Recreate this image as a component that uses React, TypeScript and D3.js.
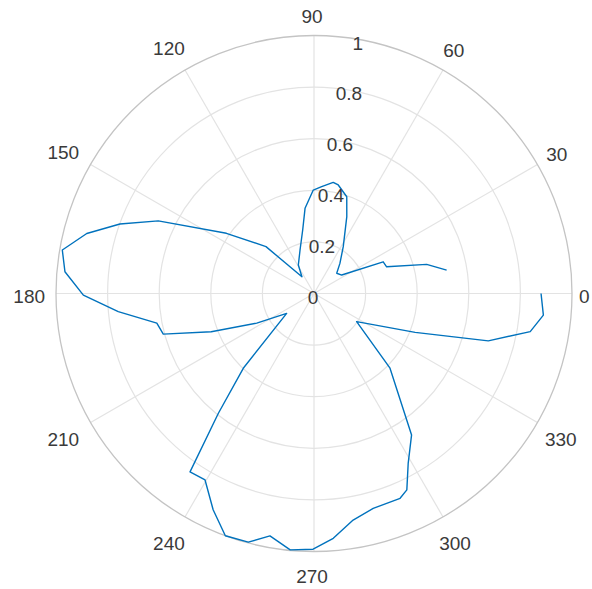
import React from "react";
import * as d3 from "d3";

// Polar data: angle (degrees) and radius
const thetaDeg = [
  10, 14.5, 20.2, 24.6, 33.7, 41.7, 49.3, 58, 66.9, 71.3, 77.4, 80.2, 85.9, 90.4, 96, 100.1,
  107.8, 118.8, 125.8, 135.7, 145.5, 155, 160.3, 165.2, 170.2, 175, 180.4, 185.3, 190.7,
  195.1, 200.4, 207.4, 216, 226.6, 231.4, 235.2, 239.7, 245, 249.9, 255.2, 259.7, 264.7,
  269.8, 274.5, 279.8, 285.4, 292.8, 295.3, 299, 304.6, 315.5, 326.6, 339, 344.8, 350,
  354.6, 360,
];
const radius = [
  0.522, 0.451, 0.3, 0.295, 0.129, 0.118, 0.154, 0.214, 0.324, 0.396, 0.431, 0.437, 0.415,
  0.401, 0.332, 0.25, 0.177, 0.126, 0.08, 0.26, 0.412, 0.666, 0.799, 0.911, 0.99, 0.969,
  0.894, 0.762, 0.62, 0.605, 0.425, 0.25, 0.131, 0.399, 0.594, 0.842, 0.837, 0.925, 1.0,
  0.997, 0.955, 0.998, 0.991, 0.952, 0.891, 0.864, 0.861, 0.842, 0.753, 0.666, 0.413,
  0.198, 0.42, 0.7, 0.851, 0.893, 0.88,
];
const rTicks = [0, 0.2, 0.4, 0.6, 0.8, 1];
const rTickLabels = ["0", "0.2", "0.4", "0.6", "0.8", "1"];
const thetaTicks = [0, 30, 60, 90, 120, 150, 180, 210, 240, 270, 300, 330];

const W = 592;
const H = 589;
const CX = 314;
const CY = 293.5;
const R = 258;
const FONT = 19;
const RLABEL_ANGLE = 80;

export default function App() {
  const rScale = d3.scaleLinear().domain([0, 1]).range([0, R]);
  const data = thetaDeg.map((t, i) => ({ t, r: radius[i] }));
  const line = d3
    .lineRadial<{ t: number; r: number }>()
    .angle((d) => Math.PI / 2 - (d.t * Math.PI) / 180)
    .radius((d) => rScale(d.r));
  const path = line(data) || "";

  const gridColor = "#e3e3e3";
  const outerColor = "#c4c4c4";
  const textColor = "#3a3a3a";

  const labelW = (s: string) => s.length * FONT * 0.556;

  return (
    <svg
      width={W}
      height={H}
      style={{ position: "absolute", left: 0, top: 0, background: "#fff" }}
      fontFamily="'Liberation Sans', Arial, sans-serif"
    >
      <rect x={0} y={0} width={W} height={H} fill="#fff" />
      <g transform={`translate(${CX},${CY})`}>
        {rTicks.slice(1, -1).map((t) => (
          <circle key={t} r={rScale(t)} fill="none" stroke={gridColor} strokeWidth={1.2} />
        ))}
        {thetaTicks.map((a) => {
          const rad = (a * Math.PI) / 180;
          return (
            <line
              key={a}
              x1={0}
              y1={0}
              x2={rScale(1) * Math.cos(rad)}
              y2={-rScale(1) * Math.sin(rad)}
              stroke={gridColor}
              strokeWidth={1.2}
            />
          );
        })}
        <circle r={rScale(1)} fill="none" stroke={outerColor} strokeWidth={1.3} />
        <path d={path} fill="none" stroke="#0072BD" strokeWidth={1.4} strokeLinejoin="round" />
        {rTicks.map((t, i) => {
          const rad = (RLABEL_ANGLE * Math.PI) / 180;
          const x = rScale(t) * Math.cos(rad) - 1;
          const y = -rScale(t) * Math.sin(rad) + 3.5;
          return (
            <text
              key={t}
              x={x}
              y={y + FONT * 0.35}
              textAnchor="middle"
              fontSize={FONT}
              fill={textColor}
            >
              {rTickLabels[i]}
            </text>
          );
        })}
      </g>
      <g transform={`translate(${CX - 2},${CY + 2.5})`}>
        {thetaTicks.map((a) => {
          const rad = (a * Math.PI) / 180;
          const s = String(a);
          const c = Math.cos(rad);
          const sn = Math.sin(rad);
          const d = R + 9 + 0.5 * labelW(s) * Math.abs(c) + 13 * Math.abs(sn);
          return (
            <text
              key={a}
              x={d * c}
              y={-d * sn + FONT * 0.35}
              textAnchor="middle"
              fontSize={FONT}
              fill={textColor}
            >
              {s}
            </text>
          );
        })}
      </g>
    </svg>
  );
}
